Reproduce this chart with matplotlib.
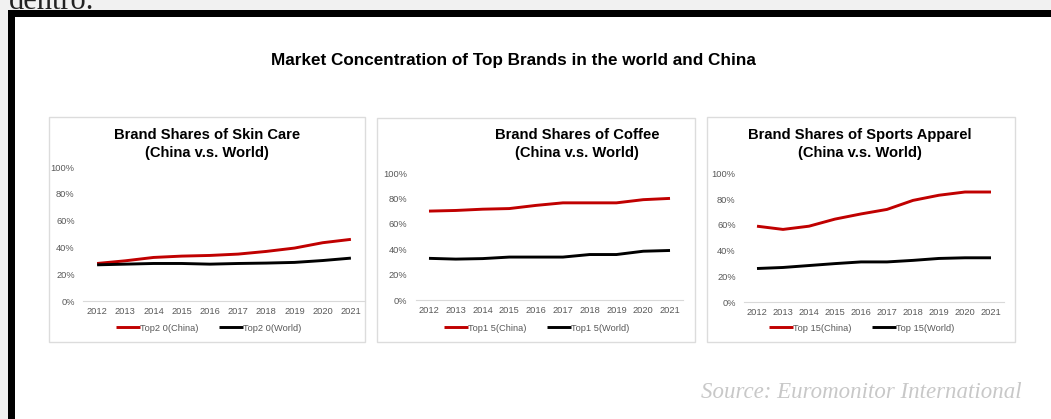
import matplotlib.pyplot as plt
from matplotlib.patches import Rectangle

plt.rcParams['font.family'] = ['Liberation Sans', 'DejaVu Sans']

# data (share of market)
years = ['2012', '2013', '2014', '2015', '2016', '2017', '2018', '2019', '2020', '2021']
skin_china = [0.28, 0.30, 0.325, 0.335, 0.34, 0.35, 0.37, 0.395, 0.435, 0.46]
skin_world = [0.27, 0.275, 0.28, 0.28, 0.275, 0.28, 0.283, 0.288, 0.302, 0.32]
coffee_china = [0.70, 0.705, 0.715, 0.72, 0.745, 0.765, 0.765, 0.765, 0.79, 0.80]
coffee_world = [0.328, 0.322, 0.326, 0.338, 0.338, 0.338, 0.358, 0.358, 0.384, 0.39]
sports_china = [0.59, 0.565, 0.59, 0.645, 0.685, 0.72, 0.79, 0.83, 0.855, 0.855]
sports_world = [0.262, 0.27, 0.285, 0.30, 0.313, 0.313, 0.325, 0.34, 0.345, 0.345]

panel_titles = ['Brand Shares of Skin Care', 'Brand Shares of Coffee', 'Brand Shares of Sports Apparel']
legend_labels = [('Top2 0(China)', 'Top2 0(World)'),
                 ('Top1 5(China)', 'Top1 5(World)'),
                 ('Top 15(China)', 'Top 15(World)')]
yticks = [0, 0.2, 0.4, 0.6, 0.8, 1.0]
ytick_labels = ['0%', '20%', '40%', '60%', '80%', '100%']

W, H = 1051, 419
fig = plt.figure(figsize=(W / 100, H / 100), dpi=100)
fig.patch.set_facecolor('#f1f1f1')


def fx(x):
    return x / W


def fy(y):
    return 1 - y / H


def rect(x0, y0, x1, y1):
    # pixel box (top-left origin) -> figure fraction
    return [fx(x0), fy(y1), (x1 - x0) / W, (y1 - y0) / H]


# black frame of the page block
fig.add_artist(Rectangle((fx(8), 0), 1, fy(10), transform=fig.transFigure,
                         facecolor='black', edgecolor='none', zorder=-10))
fig.add_artist(Rectangle((fx(15), 0), 1, fy(17), transform=fig.transFigure,
                         facecolor='white', edgecolor='none', zorder=-9))

# text cut off at the top of the page (as in the screenshot)
fig.text(fx(9), fy(9), 'dentro.', family=['Liberation Serif', 'DejaVu Serif'],
         fontsize=22, color='#222222', va='baseline', ha='left', zorder=-20)

fig.text(fx(513), fy(60), 'Market Concentration of Top Brands in the world and China',
         fontsize=12.3, fontweight='bold', ha='center', va='center', color='black')

panels = [(49, 117, 365, 342), (377, 118, 695, 342), (707, 117, 1015, 342)]
axes_box = [(83, 167, 365, 301), (415.6, 173, 683.4, 300), (744, 173.3, 1004, 302.3)]
title_x = [207, 577, 860]
legend_x = [209, 537, 862]
series = [(skin_china, skin_world), (coffee_china, coffee_world), (sports_china, sports_world)]

for i in range(3):
    px0, py0, px1, py1 = panels[i]
    fig.add_artist(Rectangle((fx(px0), fy(py1)), (px1 - px0) / W, (py1 - py0) / H,
                             transform=fig.transFigure, facecolor='white',
                             edgecolor='#dcdcdc', lw=1.0, zorder=-5))

    ax = fig.add_axes(rect(*axes_box[i]))
    ax.set_facecolor('none')
    china, world = series[i]
    x = range(len(years))
    ax.plot(x, china, color='#c00000', lw=2.1, label=legend_labels[i][0], solid_capstyle='butt')
    ax.plot(x, world, color='black', lw=2.1, label=legend_labels[i][1], solid_capstyle='butt')
    ax.set_xlim(-0.5, 9.5)
    ax.set_ylim(0, 1)
    ax.set_xticks(list(x))
    ax.set_xticklabels(years)
    ax.set_yticks(yticks)
    ax.set_yticklabels(ytick_labels)
    for s in ['top', 'right', 'left']:
        ax.spines[s].set_visible(False)
    ax.spines['bottom'].set_color('#d9d9d9')
    ax.spines['bottom'].set_linewidth(0.8)
    ax.tick_params(axis='both', length=0, labelsize=6.7, colors='#595959')
    ax.tick_params(axis='y', pad=6)
    ax.tick_params(axis='x', pad=4)

    fig.text(fx(title_x[i]), fy(135), panel_titles[i], fontsize=10.6, fontweight='bold',
             ha='center', va='center')
    fig.text(fx(title_x[i]), fy(153), '(China v.s. World)', fontsize=10.6, fontweight='bold',
             ha='center', va='center')

    ax.legend(loc='center', bbox_to_anchor=(fx(legend_x[i]), fy(328)),
              bbox_transform=fig.transFigure, ncol=2, frameon=False, fontsize=6.7,
              handlelength=2.5, handletextpad=0.1, columnspacing=2.2,
              labelcolor='#595959')

fig.text(fx(1022), fy(392), 'Source: Euromonitor International',
         family=['Liberation Serif', 'DejaVu Serif'], style='italic',
         fontsize=16.5, color='#c8c8c8', ha='right', va='center')

fig.savefig('out.png', dpi=100, facecolor=fig.get_facecolor())
